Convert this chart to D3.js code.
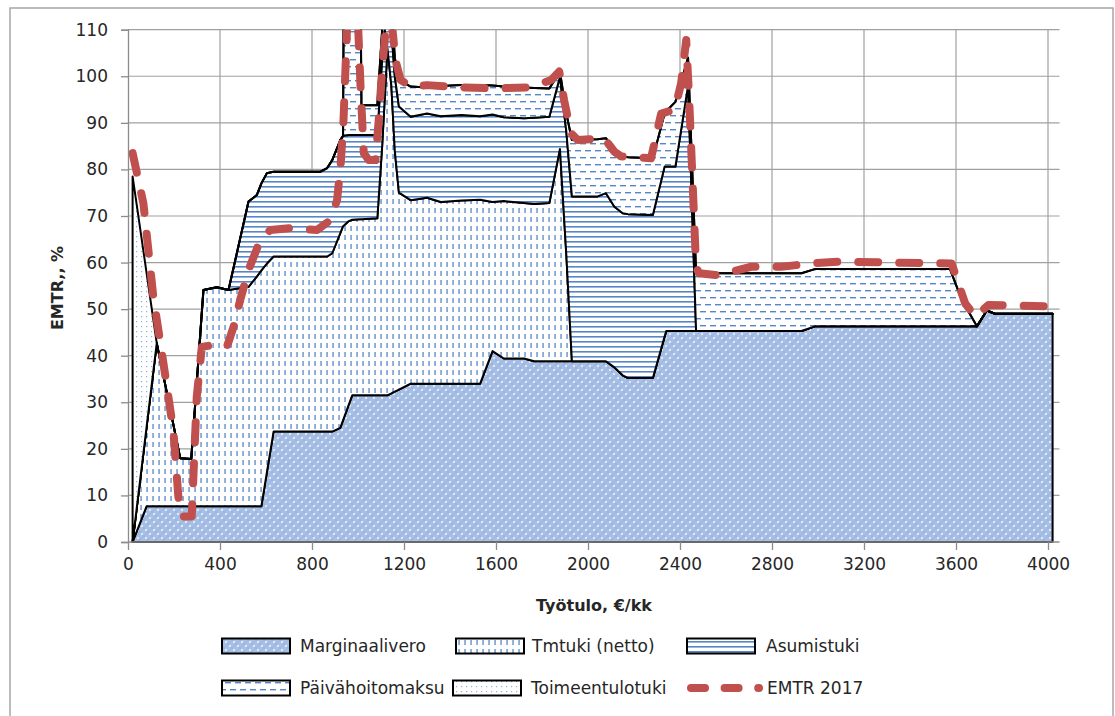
<!DOCTYPE html>
<html>
<head>
<meta charset="utf-8">
<script src="https://cdn.jsdelivr.net/npm/d3@7"></script>
<style>
  body { margin: 0; background: #fff; }
  text { font-family: "DejaVu Sans", sans-serif; fill: #262626; }
</style>
</head>
<body>
<svg id="chart" width="1115" height="716"></svg>
<script>
// Monthly earned income (€/kk) at which the components are evaluated
const income = [20, 81, 125, 227, 275, 328, 386, 437, 524, 560, 580, 604, 633, 837, 866, 888, 923, 935, 940, 960,
  975, 1008, 1015, 1084, 1105, 1128, 1145, 1160, 1178, 1229, 1300, 1360, 1450, 1531, 1585, 1634, 1722, 1766, 1832, 1878,
  1906, 1930, 2042, 2078, 2115, 2151, 2174, 2282, 2333, 2340, 2380, 2435, 2470, 2928, 2986, 3574, 3625, 3691, 3734, 3769, 4020];

// Components of the effective marginal tax rate, percentage points
const marginaalivero = [0, 7.7, 7.7, 7.7, 7.7, 7.7, 7.7, 7.7, 7.7, 7.7, 7.7, 15.0, 23.7, 23.7, 23.7, 23.7, 24.5, 26.1, 26.8, 29.5,
  31.5, 31.5, 31.5, 31.5, 31.5, 31.5, 31.9, 32.3, 32.7, 34.0, 34.0, 34.0, 34.0, 34.0, 41.0, 39.4, 39.4, 38.8, 38.8, 38.8,
  38.8, 38.8, 38.8, 38.8, 37.5, 35.8, 35.2, 35.2, 44.1, 45.3, 45.3, 45.3, 45.3, 45.3, 46.3, 46.3, 46.3, 46.3, 49.7, 49.0, 49.0];
const tmtuki = [0, 17.1, 35.0, 10.3, 10.1, 46.4, 47.0, 46.4, 47.1, 49.3, 50.6, 44.8, 37.6, 37.6, 37.6, 38.3, 41.8, 41.7, 41.2, 39.4,
  37.7, 37.8, 37.8, 38.0, 53.5, 74.5, 66.1, 51.7, 42.3, 39.4, 39.9, 39.0, 39.3, 39.5, 32.0, 33.8, 33.4, 33.8, 34.0, 45.6,
  22.7, 0, 0, 0, 0, 0, 0, 0, 0, 0, 0, 0, 0, 0, 0, 0, 0, 0, 0, 0, 0];
const asumistuki = [0, 0, 0, 0, 0, 0, 0, 0, 18.3, 17.5, 18.7, 19.4, 18.2, 18.2, 19.0, 20.0, 20.0, 19.4, 19.3, 18.5,
  18.2, 18.1, 18.1, 17.9, 19.0, 10.0, 12.0, 16.0, 18.5, 17.9, 18.1, 18.4, 18.4, 17.9, 18.8, 18.0, 18.2, 18.5, 18.5, 15.5,
  26.5, 35.4, 35.4, 36.1, 34.5, 34.8, 35.2, 35.0, 36.5, 35.3, 35.3, 52.7, 0, 0, 0, 0, 0, 0, 0, 0, 0];
const paivahoitomaksu = [0, 0, 0, 0, 0, 0, 0, 0, 0, 0, 0, 0, 0, 0, 0, 0, 0, 0, 52.7, 52.6,
  52.6, 52.6, 6.4, 6.4, 6.0, 6.0, 6.0, 4.0, 5.7, 6.5, 5.6, 6.5, 6.4, 6.7, 6.2, 6.6, 6.6, 6.4, 6.1, 1.1,
  4.0, 12.1, 12.3, 11.8, 12.2, 12.2, 12.2, 12.2, 11.4, 11.9, 13.9, 6.0, 12.4, 12.4, 12.3, 12.3, 5.7, 0, 0, 0, 0];
const toimeentulotuki = [78.5, 32.9, 0, 0, 0, 0, 0, 0, 0, 0, 0, 0, 0, 0, 0, 0, 0, 0, 0, 0,
  0, 0, 0, 0, 0, 0, 0, 0, 0, 0, 0, 0, 0, 0, 0, 0, 0, 0, 0, 0,
  0, 0, 0, 0, 0, 0, 0, 0, 0, 0, 0, 0, 0, 0, 0, 0, 0, 0, 0, 0, 0];

// Total EMTR 2017 curve
const emtrIncome = [20, 67, 110, 154, 197, 219, 234, 277, 299, 321, 372, 430, 459, 488, 524, 575, 619, 706, 822, 880,
  909, 924, 937, 952, 975, 1003, 1011, 1025, 1047, 1076, 1090, 1105, 1120, 1135, 1150, 1163, 1185, 1229, 1300, 1450,
  1600, 1750, 1840, 1875, 1896, 1926, 1955, 2070, 2115, 2144, 2274, 2289, 2318, 2377, 2405, 2427, 2440, 2470, 2483, 2565,
  2660, 2710, 2840, 2972, 3087, 3581, 3640, 3684, 3741, 4020];
const emtr2017 = [83.5, 72.7, 52.7, 38.4, 24.0, 9.7, 5.5, 5.5, 31.2, 41.9, 42.3, 41.9, 46.2, 52.0, 58.4, 64.8, 67.0, 67.4, 67.0, 69.1,
  73.4, 80.6, 90.6, 110, 140, 107.8, 97.8, 83.5, 82.0, 82.0, 90.6, 101.4, 110, 112, 110, 103.5, 99.2, 97.8, 98.1, 97.6,
  97.4, 97.6, 99.2, 101.0, 94.9, 87.8, 86.3, 86.7, 83.8, 82.8, 82.4, 85.6, 92.0, 92.8, 98.5, 107.8, 95.0, 59.0, 57.7, 57.3,
  58.5, 59.1, 59.1, 59.8, 60.2, 59.8, 51.2, 48.4, 50.9, 50.6];

const xTicks = [0, 400, 800, 1200, 1600, 2000, 2400, 2800, 3200, 3600, 4000];
const yTicks = [0, 10, 20, 30, 40, 50, 60, 70, 80, 90, 100, 110];

const seriesKeys = ["Marginaalivero", "Tmtuki (netto)", "Asumistuki", "Päivähoitomaksu", "Toimeentulotuki"];
const seriesValues = [marginaalivero, tmtuki, asumistuki, paivahoitomaksu, toimeentulotuki];
const seriesPattern = ["pat-mv", "pat-tm", "pat-as", "pat-ph", "pat-tt"];

const svg = d3.select("#chart");

// ---------- fill patterns ----------
const defs = svg.append("defs");
const BLUE = "#5686c8";
function pattern(id, w, h) {
  const p = defs.append("pattern").attr("id", id)
    .attr("patternUnits", "userSpaceOnUse").attr("width", w).attr("height", h);
  return p;
}
let p = pattern("pat-mv", 8, 8);
p.append("rect").attr("width", 8).attr("height", 8).attr("fill", "#a8c0e5");
p.append("path").attr("d", "M0,0L8,8M8,0L0,8").attr("stroke", "#8fabda").attr("stroke-width", 0.6);
p.append("circle").attr("cx", 2).attr("cy", 2).attr("r", 0.9).attr("fill", "#fff");
p.append("circle").attr("cx", 6).attr("cy", 6).attr("r", 0.9).attr("fill", "#fff");

p = pattern("pat-tm", 6, 9);
p.append("rect").attr("width", 6).attr("height", 9).attr("fill", "#fff");
p.append("rect").attr("x", 2.4).attr("y", 1).attr("width", 1.3).attr("height", 5).attr("fill", BLUE);

p = pattern("pat-as", 8, 5);
p.append("rect").attr("width", 8).attr("height", 5).attr("fill", "#fff");
p.append("rect").attr("y", 1).attr("width", 8).attr("height", 1.6).attr("fill", BLUE);

p = pattern("pat-ph", 10, 14);
p.append("rect").attr("width", 10).attr("height", 14).attr("fill", "#fff");
p.append("rect").attr("x", 0).attr("y", 3).attr("width", 6).attr("height", 1.4).attr("fill", BLUE);
p.append("rect").attr("x", 5).attr("y", 10).attr("width", 5).attr("height", 1.4).attr("fill", BLUE);
p.append("rect").attr("x", 0).attr("y", 10).attr("width", 1).attr("height", 1.4).attr("fill", BLUE);

p = pattern("pat-tt", 5, 5);
p.append("rect").attr("width", 5).attr("height", 5).attr("fill", "#fff");
p.append("rect").attr("x", 1).attr("y", 1).attr("width", 1.2).attr("height", 1.2).attr("fill", "#8fb1e2");

// ---------- frame ----------
svg.append("rect").attr("x", 10).attr("y", 8).attr("width", 1103).attr("height", 720)
  .attr("fill", "none").attr("stroke", "#a6a6a6").attr("stroke-width", 1.5);

// ---------- scales ----------
const x = d3.scaleLinear().domain([0, 4050]).range([128, 1059.5]);
const y = d3.scaleLinear().domain([0, 110]).range([542, 29.7]);

// gridlines
const grid = svg.append("g").attr("stroke", "#a0a0a0").attr("stroke-width", 1.2);
grid.selectAll(".hg").data(yTicks.filter(v => v > 0)).join("line")
  .attr("x1", x(0)).attr("x2", x(4050)).attr("y1", d => y(d)).attr("y2", d => y(d));
grid.selectAll(".vg").data(xTicks.filter(v => v > 0)).join("line")
  .attr("x1", d => x(d)).attr("x2", d => x(d)).attr("y1", y(0)).attr("y2", y(110));

// ---------- stacked areas ----------
svg.append("clipPath").attr("id", "plot-clip").append("rect")
  .attr("x", x(0)).attr("y", y(110)).attr("width", x(4050) - x(0)).attr("height", y(0) - y(110) + 2);

const rows = income.map((v, i) => {
  const r = { x: v };
  seriesKeys.forEach((k, j) => { r[k] = seriesValues[j][i]; });
  return r;
});
const stacked = d3.stack().keys(seriesKeys)(rows);

const area = d3.area()
  .x(d => x(d.data.x))
  .y0(d => y(d[0]))
  .y1(d => y(d[1]));

const plot = svg.append("g").attr("clip-path", "url(#plot-clip)");
plot.selectAll("path.layer").data(stacked).join("path")
  .attr("class", "layer")
  .attr("d", area)
  .attr("fill", (d, i) => `url(#${seriesPattern[i]})`)
  .attr("stroke", "#000")
  .attr("stroke-width", 2)
  .attr("stroke-linejoin", "round");

// EMTR line
const line = d3.line().x(d => x(d[0])).y(d => y(d[1]));
plot.append("path")
  .attr("d", line(emtrIncome.map((v, i) => [v, emtr2017[i]])))
  .attr("fill", "none")
  .attr("stroke", "#c0504d")
  .attr("stroke-width", 8)
  .attr("stroke-dasharray", "20,21")
  .attr("stroke-linecap", "round")
  .attr("stroke-linejoin", "round");

// ---------- axes ----------
const axisColor = "#8c8c8c";
const yAxis = svg.append("g").attr("transform", `translate(${x(0)},0)`)
  .call(d3.axisLeft(y).tickValues(yTicks).tickSize(7).tickPadding(13).tickFormat(d3.format("d")));
const xAxis = svg.append("g").attr("transform", `translate(0,${y(0)})`)
  .call(d3.axisBottom(x).tickValues(xTicks).tickSize(8).tickPadding(8).tickFormat(d3.format("d")));
[xAxis, yAxis].forEach(g => {
  g.select(".domain").attr("stroke", axisColor).attr("stroke-width", 1.3);
  g.selectAll(".tick line").attr("stroke", axisColor).attr("stroke-width", 1.3);
  g.selectAll(".tick text").attr("font-family", "DejaVu Sans").attr("font-size", 17).attr("fill", "#262626");
});
// x axis line runs across the whole plot width
xAxis.select(".domain").attr("d", `M${x(0)},0H${x(4050)}`);

// axis titles
svg.append("text").attr("x", 594).attr("y", 611).attr("text-anchor", "middle")
  .attr("font-size", 16).attr("font-weight", "bold").text("Työtulo, €/kk");
svg.append("text").attr("transform", "translate(63,288) rotate(-90)").attr("text-anchor", "middle")
  .attr("font-size", 16).attr("font-weight", "bold").text("EMTR,, %");

// ---------- legend ----------
const legendItems = [
  { name: "Marginaalivero", pat: "pat-mv", sx: 222, tx: 300, row: 0 },
  { name: "Tmtuki (netto)", pat: "pat-tm", sx: 456, tx: 532, row: 0 },
  { name: "Asumistuki", pat: "pat-as", sx: 687, tx: 766, row: 0 },
  { name: "Päivähoitomaksu", pat: "pat-ph", sx: 222, tx: 300, row: 1 },
  { name: "Toimeentulotuki", pat: "pat-tt", sx: 453, tx: 531, row: 1 },
  { name: "EMTR 2017", pat: null, sx: 687, tx: 767, row: 1 }
];
const rowY = [646, 688];
const legend = svg.append("g");
legendItems.forEach(it => {
  const cy = rowY[it.row];
  if (it.pat) {
    legend.append("rect").attr("x", it.sx).attr("y", cy - 7.5).attr("width", 68).attr("height", 15)
      .attr("fill", `url(#${it.pat})`).attr("stroke", "#000").attr("stroke-width", 2);
  } else {
    legend.append("line").attr("x1", it.sx + 4).attr("x2", it.sx + 72).attr("y1", cy).attr("y2", cy)
      .attr("stroke", "#c0504d").attr("stroke-width", 8).attr("stroke-linecap", "round")
      .attr("stroke-dasharray", "14,19.6");
  }
  legend.append("text").attr("x", it.tx).attr("y", cy + 6).attr("font-size", 17).text(it.name);
});
</script>
</body>
</html>
